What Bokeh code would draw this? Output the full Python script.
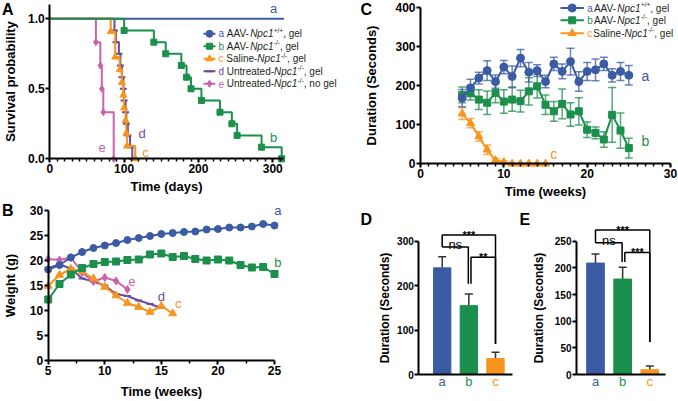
from bokeh.plotting import figure
from bokeh.models import (Label, Whisker, ColumnDataSource, TeeHead, Range1d,
                          FixedTicker, NumeralTickFormatter)
from bokeh.layouts import row, column
from bokeh.embed import file_html
from bokeh.resources import INLINE

# ---------------- data ----------------
# Panel A: Kaplan-Meier curves (event time in days, survival after the event)
surv_a_days = [0, 315]
surv_a_prob = [1.0, 1.0]
surv_b_days = [100, 140, 156, 177, 184, 190, 204, 229, 245, 252, 285, 312]
surv_b_prob = [0.917, 0.833, 0.75, 0.667, 0.583, 0.5, 0.417, 0.333, 0.25, 0.167, 0.083, 0.0]
surv_c_days = [82, 88, 94, 97, 99, 100, 102, 103, 104, 115]
surv_c_prob = [0.909, 0.727, 0.636, 0.545, 0.455, 0.364, 0.273, 0.182, 0.091, 0.0]
surv_d_days = [87, 89, 93, 95, 97, 99, 100, 102, 103, 105, 108, 111]
surv_d_prob = [0.917, 0.833, 0.75, 0.667, 0.583, 0.5, 0.417, 0.333, 0.25, 0.167, 0.083, 0.0]
surv_e_days = [62, 68, 70, 72, 86]
surv_e_prob = [0.833, 0.667, 0.5, 0.333, 0.0]

# Panel B: body weight (g) by week
weeks_a = list(range(5, 26))
weight_a = [18.2, 19.1, 20.6, 21.7, 22.5, 23.0, 23.5, 24.1, 24.5, 24.9, 25.3,
            25.5, 25.7, 25.8, 26.2, 26.3, 26.6, 26.6, 26.8, 27.3, 27.0]
weeks_b = list(range(5, 26))
weight_b = [12.2, 15.3, 17.2, 18.5, 19.3, 19.7, 19.8, 20.1, 20.2, 21.2, 21.4,
            20.7, 20.9, 20.3, 20.0, 20.2, 20.0, 19.1, 18.6, 18.7, 17.3]
weeks_c = list(range(5, 17))
weight_c = [14.9, 17.1, 18.3, 17.8, 16.4, 14.7, 13.0, 11.5, 10.7, 9.7, 10.9, 9.4]
weeks_d = list(range(5, 16))
weight_d = [18.5, 19.2, 18.4, 16.4, 15.8, 15.0, 13.3, 12.9, 12.0, 11.3, 10.5]
weeks_e = list(range(5, 13))
weight_e = [20.3, 20.1, 20.6, 17.6, 15.8, 16.6, 15.9, 14.2]

# Panel C: duration (s) by week, mean and SEM
dur_weeks_a = list(range(5, 26))
dur_a = [168, 194, 219, 238, 210, 247, 223, 270, 234, 238, 210, 255, 236, 261,
         210, 236, 240, 255, 226, 236, 226]
dur_a_err = [22, 22, 15, 25, 17, 17, 27, 22, 25, 15, 16, 17, 19, 34, 25, 23,
             28, 17, 17, 23, 25]
dur_weeks_b = list(range(5, 26))
dur_b = [176, 181, 164, 156, 181, 159, 164, 160, 185, 198, 151, 134, 153, 126,
         134, 87, 79, 62, 125, 85, 40]
dur_b_err = [20, 18, 25, 30, 25, 30, 30, 28, 35, 30, 25, 25, 38, 30, 35, 20,
             15, 20, 70, 45, 25]
dur_weeks_c = list(range(5, 16))
dur_c = [128, 104, 70, 36, 9, 4, 0, 0, 0, 0, 0]
dur_c_err = [15, 12, 12, 12, 4, 3, 0, 0, 0, 0, 0]

# Panels D and E: bar means and SEM, significance brackets
groups = ["a", "b", "c"]
d_mean = [240, 155, 36]
d_err = [25, 26, 14]
e_mean = [209, 179, 9]
e_err = [17, 22, 7]
# (text, group i, group j, bracket height, left leg end, right leg end)
d_sig = [("***", 0, 2, 314, 287, 69), ("ns", 0, 1, 287, 287, 204), ("**", 1, 2, 264, 204, 69)]
e_sig = [("***", 0, 2, 271, 247, 61), ("ns", 0, 1, 247, 247, 211), ("***", 1, 2, 229, 211, 61)]

# ---------------- style ----------------
FONT = "Liberation Sans"
CA, CB, CC, CD, CE = "#3B5BA5", "#1B8F4B", "#F7941D", "#6B4C9E", "#C963AC"
TXT = "#231F20"

W = {' ': 278, ',': 278, '-': 333, '/': 278, '+': 584, '1': 556, 'A': 667,
     'V': 667, 'N': 722, 'S': 667, 'U': 722, 'a': 556, 'b': 556, 'c': 500,
     'd': 556, 'e': 556, 'g': 556, 'i': 222, 'l': 222, 'n': 556, 'o': 556,
     'p': 556, 'r': 333, 't': 278}


def tw(s, size):
    return sum(W.get(ch, 556) for ch in s) * size / 1000.0


def panel(w, h, xa, pxa, xb, pxb, ya, pya, yb, pyb, tick_fs=12, title_fs=13):
    """Figure whose frame is the whole canvas; data xa->pixel pxa etc."""
    sx = (pxb - pxa) / (xb - xa)
    x0 = xa - pxa / sx
    x1 = x0 + w / sx
    sy = (pya - pyb) / (yb - ya)
    y1 = ya + pya / sy
    y0 = y1 - h / sy
    p = figure(width=w, height=h, x_range=Range1d(x0, x1), y_range=Range1d(y0, y1),
               output_backend="svg", toolbar_location=None, title=None,
               min_border=0, min_border_left=0, min_border_right=0,
               min_border_top=0, min_border_bottom=0)
    p.outline_line_color = None
    p.xgrid.visible = False
    p.ygrid.visible = False
    p.background_fill_color = "white"
    p.border_fill_color = "white"
    for ax in (p.xaxis[0], p.yaxis[0]):
        ax.axis_line_width = 2
        ax.axis_line_color = "black"
        ax.major_tick_line_width = 2
        ax.major_tick_in = 0
        ax.major_tick_out = 4
        ax.minor_tick_line_width = 1.5
        ax.minor_tick_in = 0
        ax.minor_tick_out = 3
        ax.major_label_text_font = FONT
        ax.major_label_text_font_style = "bold"
        ax.major_label_text_font_size = f"{tick_fs}px"
        ax.major_label_text_color = "black"
        ax.axis_label_text_font = FONT
        ax.axis_label_text_font_style = "bold"
        ax.axis_label_text_font_size = f"{title_fs}px"
        ax.axis_label_text_color = "black"
        ax.major_label_standoff = 1
        ax.axis_label_standoff = 2

    def fx(px):
        return x0 + px / sx

    def fy(py):
        return y1 - py / sy
    return p, fx, fy


def label(p, x, y, text, color=TXT, size=13, style="normal", align="center",
          baseline="middle", dx=0, dy=0):
    p.add_layout(Label(x=x, y=y, x_offset=dx, y_offset=dy, text=text,
                       text_font=FONT, text_font_size=f"{size}px",
                       text_font_style=style, text_color=color,
                       text_align=align, text_baseline=baseline))


def rich(p, x, y, parts, size=10):
    off = 0.0
    for text, style, color, sup, gap in parts:
        fs = size * 0.65 if sup else size
        p.add_layout(Label(x=x, y=y, x_offset=off, y_offset=(3.5 if sup else 0),
                           text=text, text_font=FONT, text_font_size=f"{fs:.1f}px",
                           text_font_style=style, text_color=color,
                           text_align="left", text_baseline="middle"))
        off += tw(text, fs) + gap


def geno(letter, color, prefix, sup, suffix, gap):
    return [(letter, "normal", color, False, gap),
            (prefix, "normal", TXT, False, 0), ("Npc1", "italic", TXT, False, 0.3),
            (sup, "normal", TXT, True, 0), (suffix, "normal", TXT, False, 0)]


def style_scatter(p, xs, ys, mk, col, sz):
    p.scatter(xs, ys, marker=mk, size=sz, fill_color=col, line_color=col,
              line_width=2 if mk == "dash" else 1)


# ---------------- Panel A ----------------
pA, ax_, ay_ = panel(340, 200, 0, 49.3, 315, 283.4, 0, 158.3, 1.0, 18.3)
pA.xaxis.fixed_location = 0
pA.yaxis.fixed_location = 0
pA.xaxis.bounds = (0, 315)
pA.yaxis.bounds = (0, 1.1)
pA.xaxis.ticker = FixedTicker(ticks=[0, 100, 200, 300], minor_ticks=list(range(0, 320, 10)))
pA.yaxis.ticker = FixedTicker(ticks=[0, 0.5, 1.0])
pA.yaxis.formatter = NumeralTickFormatter(format="0.0")
pA.xaxis.axis_label = "Time (days)"
pA.yaxis.axis_label = "Survival probability"
pA.yaxis.axis_label_standoff = 7
pA.xaxis.axis_label_standoff = 3

pA.line(surv_a_days, surv_a_prob, line_color=CA, line_width=2)
for days, prob, col, mk, sz in [(surv_d_days, surv_d_prob, CD, "dash", 7),
                                (surv_c_days, surv_c_prob, CC, "triangle", 7),
                                (surv_e_days, surv_e_prob, CE, "diamond", 7),
                                (surv_b_days, surv_b_prob, CB, "square", 6)]:
    pA.step([0] + days, [1.0] + prob, mode="after", line_color=col, line_width=2)
    style_scatter(pA, days, prob, mk, col, sz)

legA = [("circle", CA, geno("a", CA, "AAV-", "+/+", ", gel", 2.8), 7),
        ("square", CB, geno("b", CB, "AAV-", "-/-", ", gel", 2.8), 6),
        ("triangle", CC, geno("c", CC, "Saline-", "-/-", ", gel", 2.8), 7),
        ("dash", CD, geno("d", CD, "Untreated-", "-/-", ", gel", 2.8), 7),
        ("diamond", CE, geno("e", CE, "Untreated-", "-/-", ", no gel", 2.8), 7)]
legA_y = [0.893, 0.804, 0.714, 0.625, 0.536]
for (mk, col, parts, sz), yy in zip(legA, legA_y):
    pA.line([206.8, 222.9], [yy, yy], line_color=col, line_width=2)
    style_scatter(pA, [214.9], [yy], mk, col, sz)
    rich(pA, 226.9, yy, parts)

label(pA, ax_(273), ay_(7.5), "a", CA)
label(pA, 301, 0.154, "b", CB)
label(pA, 128.8, 0.047, "c", CC)
label(pA, 124.3, 0.179, "d", CD)
label(pA, 70.5, 0.079, "e", CE)
label(pA, ax_(1.5), ay_(0), "A", "black", 16, "bold", "left", "top")

# ---------------- Panel B ----------------
pB, bx_, by_ = panel(340, 200, 5, 47.7, 25, 274, 0, 160, 30, 10)
pB.xaxis.fixed_location = 0
pB.yaxis.fixed_location = 5
pB.xaxis.bounds = (5, 25)
pB.yaxis.bounds = (0, 30)
pB.xaxis.ticker = FixedTicker(ticks=[5, 10, 15, 20, 25], minor_ticks=[7.5, 12.5, 17.5, 22.5])
pB.yaxis.ticker = FixedTicker(ticks=[0, 5, 10, 15, 20, 25, 30])
pB.xaxis.axis_label = "Time (weeks)"
pB.yaxis.axis_label = "Weight (g)"
pB.yaxis.axis_label_standoff = 9
pB.xaxis.axis_label_standoff = 6

for wk, wt, col, mk, sz in [(weeks_d, weight_d, CD, "dash", 7),
                            (weeks_e, weight_e, CE, "diamond", 8),
                            (weeks_c, weight_c, CC, "triangle", 8),
                            (weeks_b, weight_b, CB, "square", 7),
                            (weeks_a, weight_a, CA, "circle", 7)]:
    pB.line(wk, wt, line_color=col, line_width=2)
    style_scatter(pB, wk, wt, mk, col, sz)

label(pB, 25.3, 30.0, "a", CA)
label(pB, 25.3, 19.7, "b", CB)
label(pB, 16.5, 11.5, "c", CC)
label(pB, 15.0, 12.9, "d", CD)
label(pB, 12.4, 15.8, "e", CE)
label(pB, bx_(1.5), by_(1), "B", "black", 16, "bold", "left", "top")

# ---------------- Panel C ----------------
pC, cx_, cy_ = panel(337, 200, 0, 80, 30, 330, 0, 163.3, 400, 6.7)
pC.xaxis.fixed_location = 0
pC.yaxis.fixed_location = 0
pC.xaxis.bounds = (0, 30)
pC.yaxis.bounds = (0, 400)
pC.xaxis.ticker = FixedTicker(ticks=[0, 10, 20, 30], minor_ticks=list(range(0, 31)))
pC.yaxis.ticker = FixedTicker(ticks=[0, 100, 200, 300, 400])
pC.xaxis.axis_label = "Time (weeks)"
pC.yaxis.axis_label = "Duration (Seconds)"
pC.yaxis.axis_label_standoff = 13
pC.xaxis.axis_label_standoff = 3

for wk, m, e, col, mk, sz in [(dur_weeks_c, dur_c, dur_c_err, CC, "triangle", 8),
                              (dur_weeks_b, dur_b, dur_b_err, CB, "square", 7),
                              (dur_weeks_a, dur_a, dur_a_err, CA, "circle", 8)]:
    keep = [i for i in range(len(wk)) if e[i] > 0]
    src = ColumnDataSource(dict(x=[wk[i] for i in keep],
                                lo=[m[i] - e[i] for i in keep],
                                hi=[m[i] + e[i] for i in keep]))
    pC.add_layout(Whisker(source=src, base="x", lower="lo", upper="hi",
                          line_color=col, line_width=1.5, line_alpha=0.75,
                          upper_head=TeeHead(size=8, line_color=col, line_width=1.5, line_alpha=0.75),
                          lower_head=TeeHead(size=8, line_color=col, line_width=1.5, line_alpha=0.75),
                          level="underlay"))
    pC.line(wk, m, line_color=col, line_width=2)
    style_scatter(pC, wk, m, mk, col, sz)

legC = [("circle", CA, geno("a", CA, "AAV-", "+/+", ", gel", 1.2), 8),
        ("square", CB, geno("b", CB, "AAV-", "-/-", ", gel", 1.2), 7),
        ("triangle", CC, geno("c", CC, "Saline-", "-/-", ", gel", 1.2), 8)]
legC_py = [7.5, 19.8, 32.8]
for (mk, col, parts, sz), py in zip(legC, legC_py):
    yy = cy_(py)
    pC.line([16.8, 19.6], [yy, yy], line_color=col, line_width=2)
    style_scatter(pC, [18.2], [yy], mk, col, sz)
    rich(pC, 20.0, yy, parts)

label(pC, 27, 223, "a", CA, 14)
label(pC, 27, 57, "b", CB, 14)
label(pC, 16, 24, "c", CC, 14)
label(pC, cx_(20), cy_(0.5), "C", "black", 16, "bold", "left", "top")


# ---------------- Panels D, E ----------------
def barpanel(w, px1, px3, pxl, pxr, ymax, py_top, ticks, means, errs, sig, letter,
             lpx, ystand):
    p, fx, fy = panel(w, 200, 1, px1, 3, px3, 0, 174, ymax, py_top, 10, 12)
    xl, xr = fx(pxl), fx(pxr)
    p.xaxis.fixed_location = 0
    p.yaxis.fixed_location = xl
    p.xaxis.bounds = (xl, xr)
    p.yaxis.bounds = (0, ymax)
    p.yaxis.ticker = FixedTicker(ticks=ticks)
    p.xaxis.ticker = FixedTicker(ticks=[])
    p.yaxis.axis_label = "Duration (Seconds)"
    p.yaxis.axis_label_standoff = ystand
    xs = [1, 2, 3]
    cols = [CA, CB, CC]
    p.vbar(x=xs, top=means, width=0.65, fill_color=cols, line_color=cols)
    src = ColumnDataSource(dict(x=xs, lo=means, hi=[m + e for m, e in zip(means, errs)]))
    p.add_layout(Whisker(source=src, base="x", lower="lo", upper="hi",
                         line_color="#333333", line_width=1.5, lower_head=None,
                         upper_head=TeeHead(size=8, line_color="#333333", line_width=1.5)))
    for txt, i, j, yb, li, lj in sig:
        xi, xj = xs[i], xs[j]
        if i == 1:
            xi += 0.08
        if j == 1:
            xj -= 0.02
        p.line([xi, xi, xj, xj], [li, yb, yb, lj], line_color="black", line_width=1.5)
        label(p, (xi + xj) / 2, yb, txt, "black", 11 if "*" in txt else 13,
              "bold" if "*" in txt else "normal", "center", "alphabetic",
              dy=(2 if txt == "ns" else 0))
    for x, g, c in zip(xs, groups, cols):
        label(p, x, fy(181), g, c, 13)
    label(p, fx(lpx), fy(10), letter, "black", 16, "bold", "left", "top")
    return p


pD = barpanel(178, 101.7, 155.0, 78.3, 171.7, 300, 40.7, [0, 100, 200, 300],
              d_mean, d_err, d_sig, "D", 20, 2)
pE = barpanel(159, 77.0, 131.3, 58.0, 147.0, 250, 40.7, [0, 50, 100, 150, 200, 250],
              e_mean, e_err, e_sig, "E", 1, 6)

layout = column(row(pA, pC), row(pB, pD, pE))
open("out.html", "w").write(file_html(layout, INLINE))
